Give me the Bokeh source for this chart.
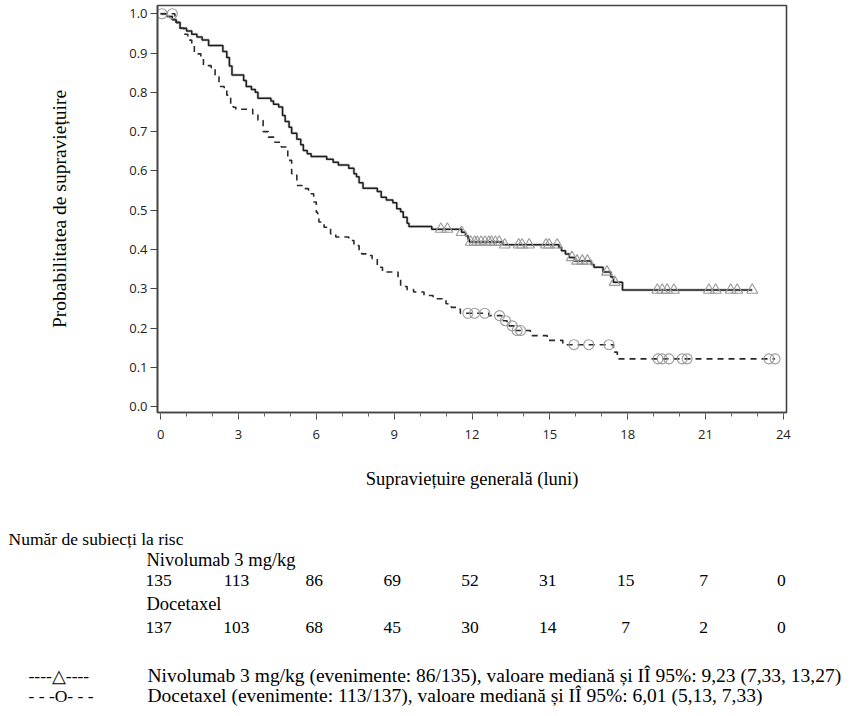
import numpy as np
from bokeh.plotting import figure
from bokeh.layouts import column, row
from bokeh.models import Range1d, FixedTicker, NumeralTickFormatter
from bokeh.core.properties import value
from bokeh.embed import file_html
from bokeh.resources import INLINE

# ---- Kaplan-Meier estimates: step times (months) and survival after each step ----
nivo_times = [0.0, 0.25, 0.45, 0.6, 0.75, 1.0, 1.2, 1.4, 1.6, 1.85, 2.4, 2.55, 2.65, 2.75,
              3.2, 3.3, 3.5, 3.65, 3.75, 4.25, 4.35, 4.55, 4.7, 4.8, 4.95, 5.05, 5.25,
              5.4, 5.5, 5.65, 5.8, 6.4, 6.65, 6.85, 7.25, 7.45, 7.55, 7.65, 7.8, 8.35,
              8.5, 8.7, 8.95, 9.1, 9.25, 9.35, 9.5, 9.57, 10.45, 11.6, 11.75, 11.85,
              11.9, 13.2, 15.35, 15.45, 15.6, 15.75, 15.95, 16.6, 16.7, 17.05, 17.35,
              17.45, 17.8]
nivo_surv = [1.0, 0.993, 0.985, 0.978, 0.963, 0.956, 0.948, 0.941, 0.933, 0.919, 0.904,
             0.889, 0.867, 0.844, 0.830, 0.815, 0.807, 0.800, 0.785, 0.778, 0.770, 0.763,
             0.741, 0.726, 0.711, 0.696, 0.681, 0.667, 0.652, 0.644, 0.637, 0.630, 0.622,
             0.615, 0.607, 0.593, 0.585, 0.570, 0.556, 0.548, 0.533, 0.526, 0.519, 0.504,
             0.496, 0.482, 0.467, 0.459, 0.452, 0.444, 0.435, 0.426, 0.419, 0.412, 0.405,
             0.397, 0.389, 0.380, 0.371, 0.362, 0.355, 0.343, 0.330, 0.317, 0.297]
nivo_censor = [10.8, 11.05, 11.6, 11.95, 12.1, 12.2, 12.35, 12.5, 12.65, 12.75, 12.9,
               13.05, 13.26, 13.8, 13.93, 14.2, 14.85, 14.97, 15.28, 15.85, 16.05, 16.25,
               16.45, 17.2, 17.5, 19.14, 19.33, 19.52, 19.78, 21.13, 21.39, 21.97, 22.22,
               22.8]

doce_times = [0.0, 0.55, 0.6, 0.75, 0.9, 1.05, 1.2, 1.3, 1.55, 1.65, 1.95, 2.1, 2.25,
              2.45, 2.55, 2.7, 2.8, 2.9, 3.55, 3.75, 3.95, 4.15, 4.4, 4.65, 4.85, 4.9,
              5.05, 5.25, 5.45, 5.7, 5.9, 6.0, 6.05, 6.1, 6.3, 6.55, 6.75, 7.25, 7.45,
              7.65, 7.75, 7.95, 8.15, 8.35, 8.55, 9.15, 9.25, 9.5, 9.75, 10.15, 10.5,
              11.0, 11.2, 11.4, 11.55, 12.65, 13.15, 13.35, 13.65, 14.25, 14.9, 15.5,
              17.45, 17.6]
doce_surv = [1.0, 0.985, 0.978, 0.963, 0.948, 0.933, 0.919, 0.898, 0.886, 0.868, 0.862,
             0.840, 0.815, 0.808, 0.793, 0.771, 0.762, 0.757, 0.745, 0.729, 0.700, 0.686,
             0.673, 0.661, 0.655, 0.627, 0.593, 0.563, 0.555, 0.542, 0.521, 0.495, 0.491,
             0.470, 0.457, 0.440, 0.432, 0.423, 0.410, 0.395, 0.389, 0.385, 0.377, 0.355,
             0.343, 0.326, 0.306, 0.298, 0.292, 0.283, 0.275, 0.262, 0.253, 0.249, 0.238,
             0.232, 0.219, 0.206, 0.194, 0.181, 0.169, 0.158, 0.139, 0.122]
doce_censor = [0.05, 0.45, 11.84, 12.1, 12.49, 13.06, 13.29, 13.55, 13.74, 13.87, 15.93,
               16.5, 17.28, 19.17, 19.33, 19.59, 20.1, 20.29, 23.44, 23.68]

# ---- Number at risk ----
risk_months = [0, 3, 6, 9, 12, 15, 18, 21, 24]
nivo_at_risk = [135, 113, 86, 69, 52, 31, 15, 7, 0]
doce_at_risk = [137, 103, 68, 45, 30, 14, 7, 2, 0]

x_ticks = [0, 3, 6, 9, 12, 15, 18, 21, 24]
x_minor = list(range(0, 25))
y_ticks = [0.0, 0.1, 0.2, 0.3, 0.4, 0.5, 0.6, 0.7, 0.8, 0.9, 1.0]

nivo_label = "Nivolumab 3 mg/kg"
doce_label = "Docetaxel"
nivo_legend = "Nivolumab 3 mg/kg (evenimente: 86/135), valoare mediană și IÎ 95%: 9,23 (7,33, 13,27)"
doce_legend = "Docetaxel (evenimente: 113/137), valoare mediană și IÎ 95%: 6,01 (5,13, 7,33)"

SERIF = "Liberation Serif"
SANS = "Open Sans"
W = 855
TOP_H, TABLE_H = 500, 216
LEFT, RIGHT = 157, 69
X0, X1 = -0.12, 24.12
Y0, Y1 = -0.0145, 1.021


def km_at(times, surv, t):
    idx = np.searchsorted(np.asarray(times), np.asarray(t), side="right") - 1
    return np.asarray(surv)[idx]


def extend(times, surv, censor):
    end = max(censor[-1], times[-1])
    return list(times) + [end], list(surv) + [surv[-1]]


# ---- Survival plot ----
p = figure(width=W, height=TOP_H, x_range=Range1d(X0, X1), y_range=Range1d(Y0, Y1),
           output_backend="svg", toolbar_location=None,
           min_border_left=LEFT, min_border_right=RIGHT, min_border_top=5,
           min_border_bottom=88)
p.xgrid.visible = False
p.ygrid.visible = False
p.background_fill_color = "white"
p.border_fill_color = "white"
p.outline_line_color = "#444444"
p.outline_line_width = 1.6

nt, ns = extend(nivo_times, nivo_surv, nivo_censor)
dt, ds = extend(doce_times, doce_surv, doce_censor)

p.step(nt, ns, mode="after", line_color="#b0b0b0", line_width=3.0, line_alpha=0.6)
p.step(nt, ns, mode="after", line_color="#1e1e1e", line_width=1.5)
p.step(dt, ds, mode="after", line_color="#2a2a2a", line_width=1.6, line_dash="6 5")

p.scatter(nivo_censor, km_at(nivo_times, nivo_surv, nivo_censor), marker="triangle",
          size=11, line_color="#9a9a9a", line_width=1.1, fill_alpha=0)
p.scatter(doce_censor, km_at(doce_times, doce_surv, doce_censor), marker="circle",
          size=10, line_color="#9a9a9a", line_width=1.1, fill_alpha=0)

for ax in (p.xaxis[0], p.yaxis[0]):
    ax.axis_line_color = "#444444"
    ax.axis_line_width = 1.6
    ax.major_tick_line_color = "#444444"
    ax.minor_tick_line_color = "#666666"
    ax.major_tick_out = 7
    ax.major_tick_in = 0
    ax.major_label_text_font = SANS
    ax.major_label_text_font_size = "13px"
    ax.major_label_text_color = "#222222"
    ax.axis_label_text_font = SERIF
    ax.axis_label_text_font_style = "normal"
    ax.axis_label_text_color = "black"

p.xaxis.ticker = FixedTicker(ticks=x_ticks, minor_ticks=x_minor)
p.xaxis.minor_tick_out = 4
p.xaxis.minor_tick_in = 0
p.xaxis.major_label_standoff = 10
p.xaxis.axis_label = "Supraviețuire generală (luni)"
p.xaxis.axis_label_text_font_size = "18.5px"
p.xaxis.axis_label_standoff = 27

p.yaxis.ticker = FixedTicker(ticks=y_ticks, minor_ticks=[])
p.yaxis.formatter = NumeralTickFormatter(format="0.0")
p.yaxis.major_label_standoff = 3
p.yaxis.axis_label = "Probabilitatea de supraviețuire"
p.yaxis.axis_label_text_font_size = "19.5px"
p.yaxis.axis_label_standoff = 56

# ---- Number-at-risk table and legend (full-width panel, months on the same scale) ----
k = (W - LEFT - RIGHT) / (X1 - X0)          # pixels per month
bx0 = X0 - LEFT / k
bx1 = X1 + RIGHT / k


def px(xpix):
    return bx0 + xpix / k


q = figure(width=W, height=TABLE_H, x_range=Range1d(bx0, bx1),
           y_range=Range1d(TOP_H + TABLE_H, TOP_H),
           output_backend="svg", toolbar_location=None, x_axis_type=None, y_axis_type=None,
           min_border_left=0, min_border_right=0, min_border_top=0, min_border_bottom=0)
q.outline_line_color = None
q.background_fill_color = "white"
q.border_fill_color = "white"


def txt(size):
    return dict(text_font=value(SERIF), text_font_size=size, text_color="black",
                text_baseline="middle")


q.text(x=[px(8)], y=[538], text=["Număr de subiecți la risc"], text_align="left",
       **txt("17.5px"))
q.text(x=[px(146), px(146)], y=[559, 603], text=[nivo_label, doce_label],
       text_align="left", **txt("18.5px"))
q.text(x=risk_months, y=[580] * len(risk_months), text=[str(v) for v in nivo_at_risk],
       text_align="center", x_offset=-2, **txt("17.5px"))
q.text(x=risk_months, y=[627] * len(risk_months), text=[str(v) for v in doce_at_risk],
       text_align="center", x_offset=-2, **txt("17.5px"))

q.text(x=[px(28), px(28)], y=[675, 695], text=["----\u25b3----", "- - -O- - -"],
       text_align="left", **txt("17.5px"))
q.text(x=[px(147), px(147)], y=[675, 695], text=[nivo_legend, doce_legend],
       text_align="left", **txt("19.5px"))

layout = column(p, row(q, spacing=0), spacing=0)
open("out.html", "w").write(file_html(layout, INLINE))
